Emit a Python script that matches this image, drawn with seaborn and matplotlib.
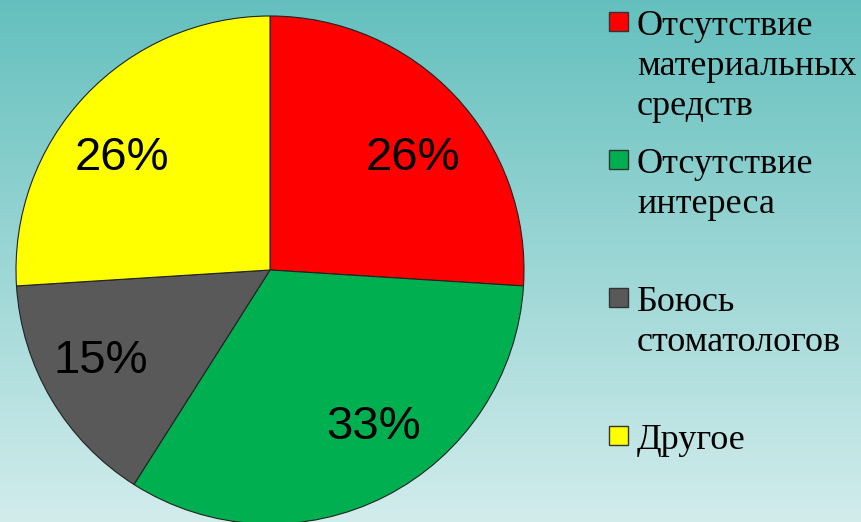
import numpy as np
import matplotlib
matplotlib.use("Agg")
import matplotlib.pyplot as plt
from matplotlib.patches import Rectangle
import seaborn as sns

# --- Data ---
labels = ["Отсутствие\nматериальных\nсредств", "Отсутствие\nинтереса",
          "Боюсь\nстоматологов", "Другое"]
shares = [26, 33, 15, 26]
colors = ["#FF0000", "#00B050", "#595959", "#FFFF00"]

# where the % labels sit (pie data coords, radius 1)
label_xy = [(0.563, 0.46), (0.409, -0.60), (-0.665, -0.34), (-0.583, 0.46)]

sns.set_theme(style="white")
plt.rcParams['font.family'] = ['Liberation Sans', 'DejaVu Sans']

W, H = 862, 522
fig = plt.figure(figsize=(W / 100, H / 100), dpi=100)

# background gradient (teal at top, pale at bottom)
bg = fig.add_axes([0, 0, 1, 1])
top = np.array([0x64, 0xC0, 0xBE]) / 255
bot = np.array([0xD2, 0xEC, 0xEC]) / 255
t = np.linspace(0, 1, 256)[:, None]
grad = top * (1 - t) + bot * t
bg.imshow(grad[:, None, :], aspect='auto', extent=[0, 1, 0, 1])
bg.set_axis_off()

# pie axes: center (270, 270) px from top, radius ~254 px
cx, cy, r = 270, 270, 254
ax = fig.add_axes([(cx - r) / W, (H - cy - r) / H, 2 * r / W, 2 * r / H])
wedges, texts, autotexts = ax.pie(
    shares, colors=colors, startangle=90, counterclock=False,
    autopct='%d%%', pctdistance=0.73,
    wedgeprops=dict(edgecolor='#222222', linewidth=0.8),
    textprops=dict(fontsize=34, color='black'))
for at, pos in zip(autotexts, label_xy):
    at.set_position(pos)
    at.set_va('center_baseline')
ax.set_xlim(-1, 1)
ax.set_ylim(-1, 1)
ax.set_aspect('auto')
ax.set_axis_off()

# legend on the right
base0, step = 36, 138
for i, (lab, col) in enumerate(zip(labels, colors)):
    yb = base0 + i * step
    fig.patches.append(Rectangle((609 / W, 1 - (yb - 5) / H), 19 / W, 19 / H,
                                 transform=fig.transFigure, facecolor=col,
                                 edgecolor='#333333', linewidth=1))
    fig.text(637 / W, 1 - (yb - 26) / H, lab, fontsize=26, va='top', ha='left',
             family=['Liberation Serif', 'DejaVu Serif'], linespacing=1.28,
             color='black')

fig.savefig("out.png", dpi=100)
